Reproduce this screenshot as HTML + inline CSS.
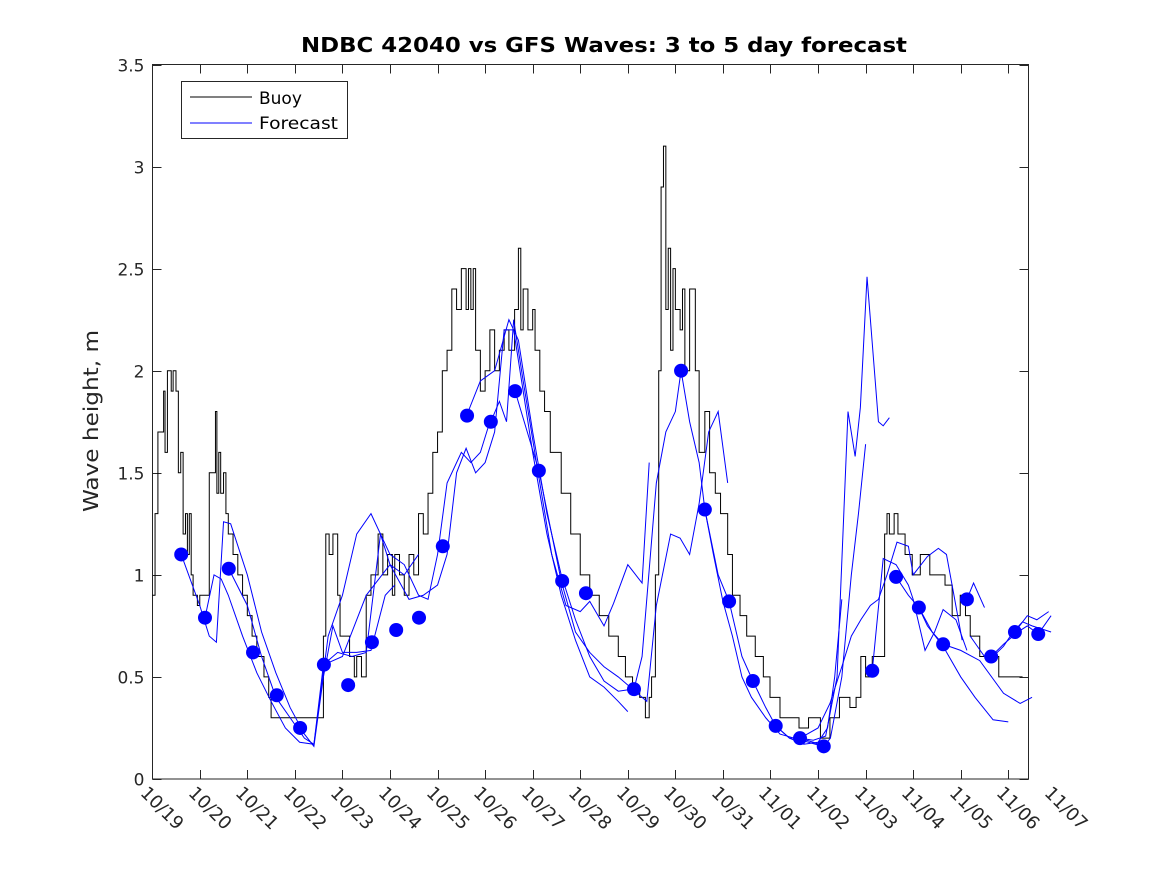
<!DOCTYPE html>
<html><head><meta charset="utf-8"><style>
body{margin:0;background:#fff;}
svg{display:block;font-family:"DejaVu Sans","Liberation Sans",sans-serif;}
</style></head><body>
<svg id="chart" width="1167" height="875" viewBox="0 0 1167 875">
<rect x="0" y="0" width="1167" height="875" fill="#fff"/>
<text x="604" y="52" text-anchor="middle" font-size="20" font-weight="bold" fill="#000" textLength="606" lengthAdjust="spacingAndGlyphs">NDBC 42040 vs GFS Waves: 3 to 5 day forecast</text>
<text transform="translate(98,421) rotate(-90)" text-anchor="middle" font-size="20" fill="#262626" textLength="182" lengthAdjust="spacingAndGlyphs">Wave height, m</text>
<g id="axes"></g>
<g id="series"></g>
<g>
<rect x="181.5" y="81.5" width="166" height="57" fill="#fff" stroke="#262626" stroke-width="1"/>
<line x1="190" y1="97" x2="252" y2="97" stroke="#000"/>
<text x="259" y="104" font-size="17" fill="#000">Buoy</text>
<line x1="190" y1="123" x2="252" y2="123" stroke="#0000ff"/>
<text x="259" y="129" font-size="17" fill="#000" textLength="79" lengthAdjust="spacingAndGlyphs">Forecast</text>
</g>
</svg>
<script>
const xTickLabels=["10/19","10/20","10/21","10/22","10/23","10/24","10/25","10/26","10/27","10/28","10/29","10/30","10/31","11/01","11/02","11/03","11/04","11/05","11/06","11/07"];
const yTicks=[0,0.5,1,1.5,2,2.5,3,3.5];
const buoyDays=[0,0.06,0.12,0.2,0.24,0.27,0.32,0.36,0.4,0.44,0.5,0.55,0.6,0.65,0.7,0.74,0.78,0.82,0.86,0.95,1.0,1.2,1.28,1.33,1.36,1.4,1.44,1.5,1.55,1.6,1.7,1.8,1.9,2.0,2.1,2.2,2.35,2.45,2.5,3.15,3.6,3.65,3.72,3.8,3.9,3.95,4.15,4.25,4.3,4.4,4.5,4.6,4.75,4.85,4.95,5.05,5.1,5.2,5.3,5.4,5.5,5.6,5.7,5.8,5.9,6.0,6.1,6.2,6.3,6.4,6.5,6.6,6.65,6.7,6.75,6.8,6.9,7.0,7.1,7.2,7.3,7.4,7.5,7.62,7.7,7.75,7.8,7.9,8.0,8.05,8.15,8.25,8.37,8.6,8.8,9.0,9.2,9.4,9.6,9.8,9.95,10.1,10.25,10.37,10.45,10.5,10.58,10.65,10.7,10.75,10.8,10.85,10.9,10.95,11.0,11.1,11.15,11.2,11.3,11.42,11.5,11.62,11.72,11.84,11.95,12.1,12.2,12.36,12.5,12.68,12.85,12.99,13.2,13.4,13.6,13.8,14.05,14.25,14.45,14.67,14.8,14.9,15.0,15.14,15.3,15.35,15.4,15.45,15.5,15.6,15.68,15.83,15.98,16.15,16.35,16.5,16.67,16.82,16.99,17.1,17.2,17.4,17.6,17.8,18.0,18.25,18.3];
const buoyVals=[0.9,1.3,1.7,1.7,1.9,1.6,2.0,2.0,1.9,2.0,1.9,1.5,1.6,1.2,1.3,1.1,1.3,1.0,0.9,0.85,0.9,1.5,1.5,1.8,1.4,1.6,1.4,1.5,1.3,1.2,1.1,1.0,0.9,0.8,0.7,0.6,0.5,0.4,0.3,0.3,0.7,1.2,1.1,1.2,0.9,0.7,0.6,0.5,0.6,0.5,0.9,1.0,1.2,1.0,1.1,0.9,1.1,1.0,0.9,1.1,1.0,1.3,1.2,1.4,1.6,1.7,2.0,2.1,2.4,2.3,2.5,2.3,2.5,2.3,2.5,2.1,1.9,2.0,2.2,2.0,2.1,2.2,2.1,2.3,2.6,2.2,2.4,2.2,2.3,2.1,1.9,1.8,1.6,1.4,1.2,1.0,0.9,0.8,0.7,0.6,0.5,0.45,0.4,0.3,0.4,0.5,1.0,2.0,2.9,3.1,2.3,2.6,2.1,2.5,2.3,2.2,2.4,2.0,2.4,2.0,1.6,1.8,1.5,1.4,1.3,1.1,0.9,0.8,0.7,0.6,0.5,0.4,0.3,0.3,0.25,0.3,0.2,0.3,0.4,0.35,0.4,0.6,0.5,0.6,0.6,0.6,1.2,1.3,1.2,1.3,1.2,1.1,1.0,1.1,1.0,1.0,0.95,0.8,0.9,0.8,0.7,0.6,0.6,0.5,0.5,0.5,0.5,0.6];
const dotDays=[0.61,1.11,1.61,2.12,2.62,3.11,3.61,4.12,4.62,5.13,5.61,6.11,6.62,7.12,7.63,8.13,8.62,9.12,10.13,11.12,11.62,12.13,12.63,13.11,13.62,14.12,15.14,15.64,16.12,16.63,17.13,17.64,18.14,18.63];
const dotVals=[1.10,0.79,1.03,0.62,0.41,0.25,0.56,0.46,0.67,0.73,0.79,1.14,1.78,1.75,1.90,1.51,0.97,0.91,0.44,2.00,1.32,0.87,0.48,0.26,0.20,0.16,0.53,0.99,0.84,0.66,0.88,0.60,0.72,0.71];
const fcDays=[
[0.61,1.0,1.2,1.35,1.5,1.65,2.0,2.3,2.6,2.9,3.2,3.4,3.6,3.8,4.0,4.3,4.6,4.9,5.1],
[1.11,1.3,1.45,1.6,1.9,2.2,2.5,2.8,3.1,3.4,3.7,4.0,4.3,4.6,4.8,5.0,5.3,5.6],
[1.61,2.0,2.3,2.6,2.9,3.2,3.4,3.6,3.9,4.2,4.5,4.8,5.0,5.3,5.6,5.8,6.0,6.2,6.5,6.7,6.9,7.1],
[3.61,4.0,4.5,5.0,5.4,5.7,6.0,6.2,6.4,6.6,6.8,7.0,7.2,7.4,7.6,7.8,8.0,8.3,8.6,8.9,9.2,9.5,9.8,10.0],
[6.61,6.9,7.2,7.5,7.7,8.0,8.3,8.6,8.9,9.2,9.5,9.8,10.1],
[7.12,7.3,7.45,7.6,7.8,8.1,8.4,8.7,9.0,9.2,9.5,9.7,10.0,10.3,10.45],
[7.63,8.13,8.6,8.9,9.2,9.5,9.8,10.1,10.4,10.6,10.9,11.1,11.3,11.5,11.7,11.9,12.1],
[10.13,10.3,10.6,10.8,11.0,11.12,11.3,11.5,11.62,11.8,12.0,12.2,12.4,12.6,12.9,13.2,13.5,13.8,14.1],
[11.62,11.9,12.13,12.4,12.63,12.9,13.11,13.4,13.62,13.9,14.12],
[13.62,13.9,14.16,14.4,14.63,14.78,14.89,15.03,15.27,15.37,15.5],
[14.12,14.26,14.5,14.7,14.85,15.0],
[13.11,13.4,13.7,14.0,14.2,14.35,14.5],
[13.62,14.0,14.25,14.5,14.7,14.9,15.1,15.27,15.45,15.66,15.9,16.0,16.3,16.53,16.7,16.85,17.03],
[15.14,15.37,15.64,15.9,16.0,16.25,16.45,16.63,16.9,17.13],
[15.64,15.9,16.12,16.3,16.63,17.0,17.3,17.68,18.0],
[16.12,16.4,16.63,17.0,17.4,17.9,18.25,18.5],
[17.13,17.27,17.5],
[17.64,17.9,18.2,18.4,18.63,18.9],
[18.14,18.4,18.6,18.85],
[17.2,17.5,17.68,17.9,18.1,18.3,18.5,18.9]
];
const fcVals=[
[1.10,0.85,0.70,0.67,1.26,1.25,1.0,0.72,0.52,0.35,0.22,0.16,0.5,0.75,0.62,0.62,0.63,0.9,0.95],
[0.79,1.0,0.98,0.9,0.7,0.52,0.38,0.25,0.18,0.17,0.7,0.9,1.2,1.3,1.2,1.05,1.0,1.1],
[1.03,0.85,0.6,0.4,0.3,0.2,0.17,0.56,0.62,0.6,0.62,1.2,1.1,1.05,0.9,0.88,1.1,1.45,1.6,1.55,1.6,1.75],
[0.56,0.6,0.9,1.05,0.88,0.9,0.95,1.1,1.5,1.62,1.5,1.55,1.7,2.2,2.2,1.9,1.6,1.2,0.9,0.68,0.5,0.45,0.38,0.33],
[1.78,1.95,2.0,2.25,2.15,1.7,1.3,1.0,0.78,0.6,0.48,0.43,0.44],
[1.75,1.85,1.75,2.25,1.95,1.52,1.1,0.85,0.82,0.87,0.75,0.86,1.05,0.96,1.55],
[1.90,1.51,0.97,0.72,0.62,0.55,0.5,0.44,0.38,0.85,1.2,1.18,1.1,1.35,1.7,1.8,1.45],
[0.44,0.6,1.45,1.7,1.8,2.0,1.75,1.55,1.32,1.1,0.87,0.7,0.5,0.4,0.3,0.22,0.2,0.18,0.16],
[1.32,1.0,0.87,0.6,0.48,0.35,0.26,0.2,0.2,0.18,0.16],
[0.2,0.19,0.21,0.5,1.8,1.58,1.82,2.46,1.75,1.73,1.77],
[0.16,0.2,0.5,1.0,1.3,1.64],
[0.26,0.2,0.17,0.18,0.25,0.5,0.88],
[0.2,0.25,0.37,0.55,0.7,0.78,0.85,0.88,1.0,1.16,1.14,1.0,1.09,1.13,1.1,0.91,0.68],
[0.53,1.08,1.05,0.95,0.88,0.63,0.72,0.83,0.78,0.63],
[0.99,0.9,0.84,0.75,0.65,0.5,0.4,0.29,0.28],
[0.84,0.72,0.66,0.63,0.58,0.42,0.37,0.4],
[0.88,0.96,0.84],
[0.6,0.66,0.72,0.75,0.71,0.80],
[0.72,0.8,0.78,0.82],
[0.7,0.6,0.6,0.65,0.72,0.77,0.75,0.72]
];

const NS="http://www.w3.org/2000/svg";
const L=152.5,R=1028.5,T=64.5,B=779;
const xs=d=>152.2+d*47.56;
const ys=v=>B-(B-T)*v/3.5;
function mk(tag,attrs,parent){const e=document.createElementNS(NS,tag);for(const k in attrs)e.setAttribute(k,attrs[k]);parent.appendChild(e);return e;}
const ax=document.getElementById('axes'), se=document.getElementById('series');
const frame=mk('rect',{x:L,y:T,width:R-L,height:B-T,fill:'none',stroke:'#262626','stroke-width':1},ax);


yTicks.forEach(v=>{
  const y=Math.round(ys(v))+0.5;
  mk('line',{x1:L,y1:y,x2:L+9,y2:y,stroke:'#262626'},ax);
  mk('line',{x1:R,y1:y,x2:R-9,y2:y,stroke:'#262626'},ax);
  const t=mk('text',{x:L-8,y:y+6,'text-anchor':'end','font-size':17,fill:'#262626'},ax);
  t.textContent=String(v);
  
  
});
xTickLabels.forEach((lab,i)=>{
  const x=Math.round(xs(i))+0.5;
  if(x<=R+1){
    mk('line',{x1:x,y1:B,x2:x,y2:B-9,stroke:'#262626'},ax);
    mk('line',{x1:x,y1:T,x2:x,y2:T+9,stroke:'#262626'},ax);
  }
  const t=mk('text',{x:0,y:0,'font-size':18,fill:'#262626',transform:`translate(${x-13},${B+15}) rotate(45)`},ax);
  t.textContent=lab;
  
  
});
let d='';
buoyVals.forEach((v,i)=>{
  const x=xs(buoyDays[i]), y=ys(v);
  if(i===0) d+=`M${x},${y}`; else d+=`H${x}V${y}`;
});
d+=`H${xs(buoyDays[buoyDays.length-1])+2}`;
const bp=mk('path',{d:d,fill:'none',stroke:'#000','stroke-width':1},se);


fcDays.forEach((days,k)=>{
  const pts=days.map((dd,i)=>xs(dd)+','+ys(fcVals[k][i])).join(' ');
  const p=mk('polyline',{points:pts,fill:'none',stroke:'#0000ff','stroke-width':1},se);
  
  
});
dotDays.forEach((dd,i)=>{
  const c=mk('circle',{cx:xs(dd),cy:ys(dotVals[i]),r:7,fill:'#0000ff'},se);
  
  
});
</script>
</body></html>
